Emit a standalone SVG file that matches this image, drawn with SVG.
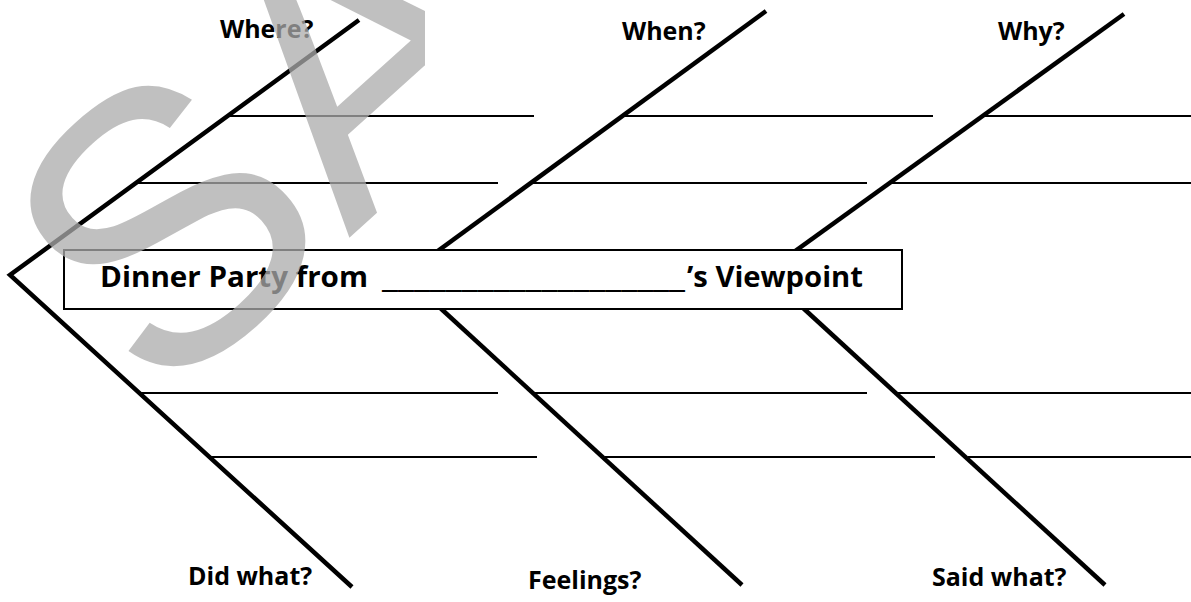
<svg xmlns="http://www.w3.org/2000/svg" width="1191" height="602" viewBox="0 0 1191 602">
<style>
.bone{stroke:#000;stroke-width:4.5;fill:none;stroke-linecap:butt;stroke-linejoin:miter}
.rib{stroke:#000;stroke-width:2;fill:none}
.lbl{font-family:"Open Sans","Noto Sans","DejaVu Sans",sans-serif;font-weight:bold;font-size:25px;fill:#000}
.ttl{font-family:"Open Sans","Noto Sans","DejaVu Sans",sans-serif;font-weight:bold;font-size:29px;fill:#000}
.wm{font-family:"Liberation Sans",Arial,sans-serif;font-size:385px;fill:#ababab;fill-opacity:0.75}
</style>
<defs>
  <clipPath id="wmclip"><rect x="0" y="0" width="425" height="602"/></clipPath>
</defs>
<rect width="1191" height="602" fill="#fff"/>
<g id="connectors">
  <polyline class="bone" points="359,20 10,275 352,587"/>
  <line class="bone" x1="420" y1="264" x2="766" y2="11"/>
  <line class="bone" x1="425" y1="294" x2="742" y2="585"/>
  <line class="bone" x1="780" y1="262" x2="1124" y2="14"/>
  <line class="bone" x1="790" y1="296" x2="1105" y2="585"/>
  <line class="rib" x1="228" y1="116" x2="534" y2="116"/>
  <line class="rib" x1="624" y1="116" x2="933" y2="116"/>
  <line class="rib" x1="983" y1="116" x2="1191" y2="116"/>
  <line class="rib" x1="137" y1="183" x2="498" y2="183"/>
  <line class="rib" x1="532" y1="183" x2="867" y2="183"/>
  <line class="rib" x1="891" y1="183" x2="1191" y2="183"/>
  <line class="rib" x1="141" y1="393" x2="498" y2="393"/>
  <line class="rib" x1="535" y1="393" x2="867" y2="393"/>
  <line class="rib" x1="897" y1="393" x2="1191" y2="393"/>
  <line class="rib" x1="211" y1="457" x2="537" y2="457"/>
  <line class="rib" x1="605" y1="457" x2="935" y2="457"/>
  <line class="rib" x1="968" y1="457" x2="1191" y2="457"/>
</g>
<g id="title">
  <rect x="64" y="250" width="838" height="59" fill="#fff" stroke="#000" stroke-width="2"/>
  <text class="ttl" y="287"><tspan x="100" textLength="268" lengthAdjust="spacingAndGlyphs">Dinner Party from</tspan><tspan x="382" textLength="303" lengthAdjust="spacingAndGlyphs">___________________</tspan><tspan x="687" textLength="176" lengthAdjust="spacingAndGlyphs">’s Viewpoint</tspan></text>
</g>
<g id="where"><text class="lbl" x="220" y="38">Where?</text></g>
<g id="when"><text class="lbl" x="622" y="40">When?</text></g>
<g id="why"><text class="lbl" x="998" y="40">Why?</text></g>
<g id="didwhat"><text class="lbl" x="188" y="585">Did what?</text></g>
<g id="feelings"><text class="lbl" x="528" y="589">Feelings?</text></g>
<g id="saidwhat"><text class="lbl" x="932" y="586">Said what?</text></g>
<g id="watermark" clip-path="url(#wmclip)">
  <text class="wm" transform="translate(158,410) rotate(-42)">SA</text>
</g>
</svg>
